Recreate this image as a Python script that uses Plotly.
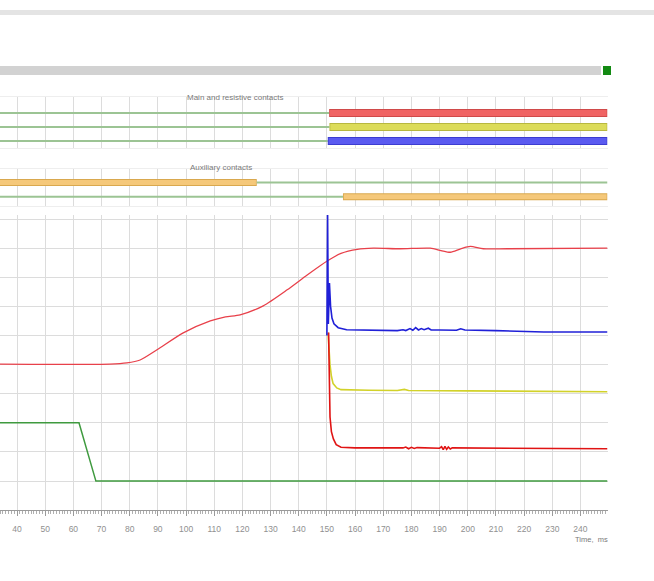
import plotly.graph_objects as go

W, H = 654, 581

# ---------------- data ----------------
t_start, t_end = 33.96, 249.6

# travel curve (red, thin)
travel_t = [30, 73.0, 79.0, 83.7, 89.7, 99.0, 108.6, 114.0, 119.2, 127.4, 135.9, 143.0,
            150.1, 155.0, 160.8, 166.5, 176.0, 186.7, 190.5, 193.8, 197.5,
            200.9, 205.5, 214.0, 249.6]
travel_v = [5.02, 5.02, 5.06, 5.16, 5.51, 6.09, 6.50, 6.64, 6.71, 7.02, 7.57, 8.08,
            8.56, 8.82, 8.96, 9.00, 8.98, 9.00, 8.92, 8.86, 8.98,
            9.06, 8.98, 8.98, 9.00]

# coil / command signal (green)
coil_t = [30, 62.0, 68.0, 249.6]
coil_v = [3.0, 3.0, 1.0, 1.0]

# phase currents
blue_t = [150.0, 150.25, 150.5, 150.9, 151.3, 151.8, 152.5, 154.0, 157.0, 165.0, 175.0,
          177.0, 178.0, 179.5, 180.5, 181.5, 182.5, 183.5, 184.5, 186.0, 187.0, 190.0,
          196.0, 197.5, 199.0, 210.0, 225.0, 227.0, 249.6]
blue_v = [6.0, 10.15, 6.4, 7.8, 7.0, 6.6, 6.4, 6.27, 6.2, 6.18, 6.17,
          6.2, 6.17, 6.24, 6.18, 6.27, 6.19, 6.24, 6.2, 6.25, 6.19, 6.19,
          6.18, 6.23, 6.19, 6.17, 6.14, 6.12, 6.12]

yellow_t = [150.4, 150.7, 151.1, 151.6, 152.2, 153.5, 155.0, 165.0, 175.0, 177.5, 179.0,
            200.0, 249.6]
yellow_v = [6.1, 5.6, 5.0, 4.6, 4.35, 4.2, 4.14, 4.12, 4.11, 4.15, 4.11,
            4.1, 4.07]

redc_t = [150.6, 150.9, 151.1, 151.6, 152.3, 153.3, 155.0, 160.0, 170.0, 177.0, 178.0,
          179.0, 180.0, 181.0, 182.0, 190.0, 190.7, 191.3, 191.9, 192.5, 193.1, 193.8,
          194.5, 210.0, 249.6]
redc_v = [6.1, 4.5, 3.2, 2.7, 2.45, 2.25, 2.16, 2.14, 2.13, 2.14, 2.17,
          2.11, 2.16, 2.12, 2.15, 2.13, 2.18, 2.08, 2.19, 2.09, 2.17, 2.1,
          2.14, 2.13, 2.11]

# contact timing (ms)
main_rows = [3, 2, 1]
main_close = [150.8, 150.9, 150.3]
main_colors = ["#f06464", "#dcdc5a", "#5a5af0"]
main_edges = ["#d04a4a", "#b8b840", "#3c3cd0"]

aux_rows = [2, 1]
aux_switch = [125.1, 155.7]

tick_vals = list(range(40, 250, 10))

# ---------------- figure ----------------
fig = go.Figure()

def ypx(y):
    return 1 - y / H

thin_green = "#9cc494"
orange = "#f5c87a"
orange_edge = "#d9a84e"

# main panel traces
fig.add_trace(go.Scatter(x=travel_t, y=travel_v, mode="lines",
                         line=dict(color="#e8404a", width=1.3, shape="spline", smoothing=0.7),
                         xaxis="x", yaxis="y"))
fig.add_trace(go.Scatter(x=coil_t, y=coil_v, mode="lines",
                         line=dict(color="#3f9a3f", width=1.5), xaxis="x", yaxis="y"))
fig.add_trace(go.Scatter(x=yellow_t, y=yellow_v, mode="lines",
                         line=dict(color="#d2d22a", width=1.6), xaxis="x", yaxis="y"))
fig.add_trace(go.Scatter(x=redc_t, y=redc_v, mode="lines",
                         line=dict(color="#e01414", width=1.6), xaxis="x", yaxis="y"))
fig.add_trace(go.Scatter(x=blue_t, y=blue_v, mode="lines",
                         line=dict(color="#2020d8", width=1.6), xaxis="x", yaxis="y"))

# main & resistive contacts
for row, tc, col, ec in zip(main_rows, main_close, main_colors, main_edges):
    fig.add_trace(go.Scatter(x=[30, tc], y=[row, row], mode="lines",
                             line=dict(color=thin_green, width=2), xaxis="x2", yaxis="y2"))
    fig.add_trace(go.Scatter(x=[tc, t_end], y=[row, row], mode="lines",
                             line=dict(color=ec, width=8), xaxis="x2", yaxis="y2"))
    fig.add_trace(go.Scatter(x=[tc + 0.3, t_end - 0.3], y=[row, row], mode="lines",
                             line=dict(color=col, width=6), xaxis="x2", yaxis="y2"))

# auxiliary contacts
fig.add_trace(go.Scatter(x=[30, aux_switch[0]], y=[aux_rows[0]] * 2, mode="lines",
                         line=dict(color=orange_edge, width=7), xaxis="x3", yaxis="y3"))
fig.add_trace(go.Scatter(x=[30, aux_switch[0] - 0.3], y=[aux_rows[0]] * 2, mode="lines",
                         line=dict(color=orange, width=5), xaxis="x3", yaxis="y3"))
fig.add_trace(go.Scatter(x=[aux_switch[0], t_end], y=[aux_rows[0]] * 2, mode="lines",
                         line=dict(color=thin_green, width=2), xaxis="x3", yaxis="y3"))
fig.add_trace(go.Scatter(x=[30, aux_switch[1]], y=[aux_rows[1]] * 2, mode="lines",
                         line=dict(color=thin_green, width=2), xaxis="x3", yaxis="y3"))
fig.add_trace(go.Scatter(x=[aux_switch[1], t_end], y=[aux_rows[1]] * 2, mode="lines",
                         line=dict(color=orange_edge, width=7), xaxis="x3", yaxis="y3"))
fig.add_trace(go.Scatter(x=[aux_switch[1] + 0.3, t_end - 0.3], y=[aux_rows[1]] * 2, mode="lines",
                         line=dict(color=orange, width=5), xaxis="x3", yaxis="y3"))

xdom = [0, 607.5 / W]
grid_c = "#dcdcdc"
common_x = dict(range=[t_start, t_end], domain=xdom, tickvals=tick_vals,
                showgrid=True, gridcolor=grid_c, gridwidth=1, zeroline=False)

fig.update_layout(
    width=W, height=H,
    margin=dict(l=0, r=0, t=0, b=0),
    paper_bgcolor="white", plot_bgcolor="white",
    showlegend=False,
    xaxis=dict(**common_x, showticklabels=True, ticks="outside", ticklen=5,
               tickcolor="#9a9a9a", showline=True, linecolor="#9a9a9a", linewidth=1,
               ticklabelstandoff=6,
               tickfont=dict(family="Liberation Sans", size=8.5, color="#909090"),
               minor=dict(dtick=1, tick0=0, ticks="outside", ticklen=3,
                          tickcolor="#b0b0b0", showgrid=False)),
    yaxis=dict(domain=[ypx(510.2), ypx(215)], range=[0, 10.14], dtick=1, tick0=0,
               showgrid=True, gridcolor=grid_c, zeroline=False,
               showticklabels=False, ticks=""),
    xaxis2=dict(**common_x, anchor="y2", matches="x", showticklabels=False, ticks="",
                showline=True, mirror=True, linecolor="#eeeeee"),
    yaxis2=dict(domain=[ypx(148), ypx(97)], range=[0.5, 4.14], anchor="x2",
                showgrid=False, zeroline=False, showticklabels=False, ticks=""),
    xaxis3=dict(**common_x, anchor="y3", matches="x", showticklabels=False, ticks="",
                showline=True, mirror=True, linecolor="#eeeeee"),
    yaxis3=dict(domain=[ypx(206), ypx(169)], range=[0.36, 2.93], anchor="x3",
                showgrid=False, zeroline=False, showticklabels=False, ticks=""),
    annotations=[
        dict(text="Main and resistive contacts", x=185 / W, y=ypx(91), xref="paper", yref="paper",
             showarrow=False, font=dict(family="Liberation Sans", size=8, color="#7a7a7a")),
        dict(text="Auxiliary contacts", x=188 / W, y=ypx(161), xref="paper", yref="paper",
             showarrow=False, font=dict(family="Liberation Sans", size=8, color="#7a7a7a")),
        dict(text="Time,  ms", x=610 / W, y=ypx(539), xref="paper", yref="paper",
             xanchor="right", yanchor="middle", showarrow=False,
             font=dict(family="Liberation Sans", size=7.5, color="#7a7a7a")),
    ],
    shapes=[
        dict(type="rect", xref="paper", yref="paper", x0=0, x1=1, y0=ypx(15), y1=ypx(10),
             fillcolor="#e4e4e4", line=dict(width=0)),
        dict(type="rect", xref="paper", yref="paper", x0=0, x1=601 / W, y0=ypx(75), y1=ypx(66),
             fillcolor="#d2d2d2", line=dict(width=0)),
        dict(type="rect", xref="paper", yref="paper", x0=603 / W, x1=611 / W, y0=ypx(75), y1=ypx(66),
             fillcolor="#138a13", line=dict(width=0)),
    ],
)

fig.write_html("out.html", config={"displayModeBar": False},
               post_script="document.body.style.margin='0';document.body.style.overflow='hidden';")
